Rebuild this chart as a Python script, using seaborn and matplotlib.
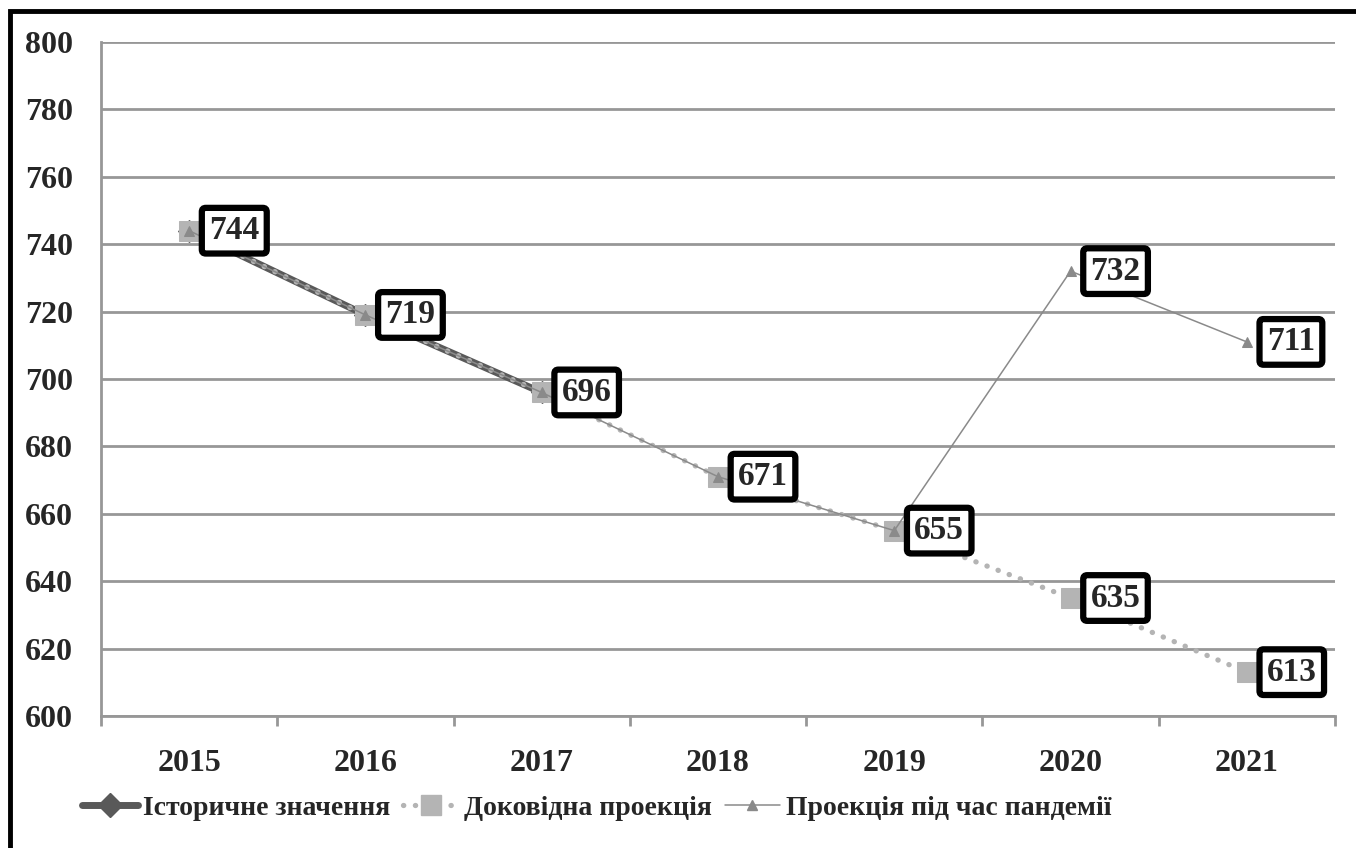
import matplotlib
matplotlib.use("Agg")
import matplotlib.pyplot as plt
import seaborn as sns
import pandas as pd
from matplotlib.patches import Rectangle
from matplotlib.lines import Line2D

years = ["2015", "2016", "2017", "2018", "2019", "2020", "2021"]
historical = [744, 719, 696]
pre_pandemic = [744, 719, 696, 671, 655, 635, 613]
pandemic = [744, 719, 696, 671, 655, 732, 711]
label_values = [744, 719, 696, 671, 655, 635, 613]
extra_labels_years = ["2020", "2021"]
extra_labels = [732, 711]

series_names = ["Історичне значення", "Доковідна проекція", "Проекція під час пандемії"]

sns.set_style("white")
plt.rcParams["font.family"] = ["Liberation Serif", "DejaVu Serif"]
plt.rcParams["font.weight"] = "bold"

fig = plt.figure(figsize=(13.56, 8.48), dpi=100)
ax = fig.add_axes([0.0745, 0.1557, 0.9100, 0.7948])

xpos = {y: i for i, y in enumerate(years)}
df_h = pd.DataFrame({"x": [xpos[y] for y in years[:len(historical)]], "v": historical})
df_p = pd.DataFrame({"x": [xpos[y] for y in years], "v": pre_pandemic})
df_c = pd.DataFrame({"x": [xpos[y] for y in years], "v": pandemic})

c_hist = "#595959"
c_pre = "#b4b4b4"
c_pan = "#8a8a8a"

sns.lineplot(data=df_h, x="x", y="v", ax=ax, color=c_hist, lw=5, marker="D",
             markersize=11, markeredgecolor=c_hist, zorder=3)
sns.lineplot(data=df_p, x="x", y="v", ax=ax, color=c_pre, lw=3.8,
             linestyle=(0, (0.05, 2.2)), dash_capstyle="round", marker="s",
             markersize=14, markeredgecolor=c_pre, zorder=4)
sns.lineplot(data=df_c, x="x", y="v", ax=ax, color=c_pan, lw=1.1, marker="^",
             markersize=7, markeredgecolor=c_pan, zorder=5)

ax.set_xlim(-0.5, 6.5)
ax.set_ylim(600, 800)
ax.set_yticks(range(600, 801, 20))
ax.set_xticks(range(len(years)))
ax.set_xticklabels(years)
ax.set_xticks([i - 0.5 for i in range(len(years) + 1)], minor=True)
ax.set_xlabel("")
ax.set_ylabel("")

grid_c = "#979797"
ax.yaxis.grid(True, color=grid_c, lw=2)
ax.set_axisbelow(True)
for s in ["top", "right"]:
    ax.spines[s].set_visible(False)
for s in ["left", "bottom"]:
    ax.spines[s].set_color(grid_c)
    ax.spines[s].set_linewidth(2)
ax.tick_params(axis="y", which="major", length=7, width=2, color=grid_c, pad=13,
               labelsize=23)
ax.tick_params(axis="x", which="major", length=0, pad=24, labelsize=23)
ax.tick_params(axis="x", which="minor", length=7, width=2, color=grid_c, bottom=True)
for lab in ax.get_xticklabels() + ax.get_yticklabels():
    lab.set_fontweight("bold")

box = dict(boxstyle="round,pad=0.22,rounding_size=0.12", fc="white", ec="black", lw=4.5)
for y, v in zip(years, label_values):
    ax.annotate(str(v), xy=(xpos[y], v), xytext=(20, 0), textcoords="offset pixels",
                ha="left", va="center", fontsize=24, fontweight="bold", bbox=box, zorder=10)
for y, v in zip(extra_labels_years, extra_labels):
    ax.annotate(str(v), xy=(xpos[y], v), xytext=(20, 0), textcoords="offset pixels",
                ha="left", va="center", fontsize=24, fontweight="bold", bbox=box, zorder=10)

handles = [
    Line2D([], [], color=c_hist, lw=5, marker="D", markersize=12, markeredgecolor=c_hist),
    Line2D([], [], color=c_pre, lw=3.8, linestyle=(0, (0.05, 2.2)), dash_capstyle="round",
           marker="s", markersize=14, markeredgecolor=c_pre),
    Line2D([], [], color=c_pan, lw=1.1, marker="^", markersize=7, markeredgecolor=c_pan),
]
fig.legend(handles, series_names, loc="center", bbox_to_anchor=(0.44, 0.047), ncol=3,
           frameon=False, prop={"size": 20, "weight": "bold"}, handlelength=2.0,
           handletextpad=0.2, columnspacing=0.45)

fig.add_artist(Rectangle((10 / 1356, -0.1), 1.2, 1 - 11.5 / 848 + 0.1,
                         transform=fig.transFigure, fill=False, ec="black", lw=3.5))

fig.savefig("out.png", dpi=100)
